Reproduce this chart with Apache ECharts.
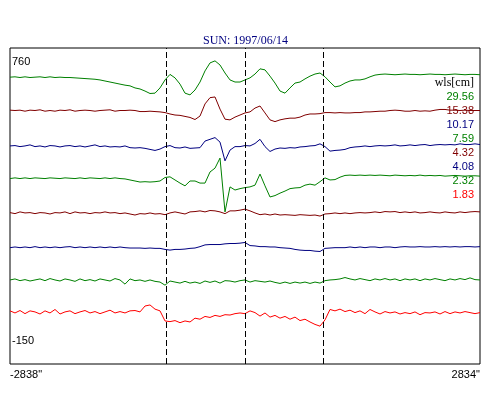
<!DOCTYPE html>
<html>
<head>
<meta charset="utf-8">
<script src="https://cdn.jsdelivr.net/npm/echarts@6/dist/echarts.min.js"></script>
<style>
  html, body { margin: 0; padding: 0; background: #fff; }
  #chart { width: 500px; height: 400px; }
</style>
</head>
<body>
<div id="chart"></div>
<script>
// scan positions (arcsec), 95 samples across the disk
const xMin = -2838;
const xMax = 2834;
const nPts = 95;
const xs = [];
for (let i = 0; i < nPts; i++) xs.push(xMin + (xMax - xMin) * i / (nPts - 1));

// wavelengths for the legend (cm)
const wls = ['29.56', '15.38', '10.17', '7.59', '4.32', '4.08', '2.32', '1.83'];
const colors = ['#008000', '#800000', '#000080', '#008000', '#800000', '#000080', '#008000', '#ff0000'];

// dashed marker positions (arcsec)
const markers = [-955, -2, 940];

// brightness traces (offset per channel)
const t1 = [676,677,675,677,675,676,677,675,677,675, 676,675,675,674,673,672,671,670,668,665,
  662,659,656,653,651,645,642,636,629,630, 645,668,684,674,656,630,625,639,662,694,
  717,723,711,688,668,662,662,668,674,685, 700,697,679,659,636,630,645,659,662,671,
  679,685,688,677,662,648,651,659,665,668, 668,671,677,682,684,685,684,683,684,685,
  684,684,683,684,685,684,684,683,684,685, 684,683,684,684,683];
const t2 = [581,580,581,578,581,580,582,578,580,578, 581,580,582,578,580,581,580,578,580,581,
  582,578,580,580,581,580,577,577,578,577, 576,574,570,567,566,563,560,554,564,599,
  617,619,584,555,553,561,567,573,576,587, 593,573,553,548,553,556,558,558,561,567,
  570,570,571,574,574,573,574,573,573,574, 574,576,576,577,578,578,580,581,580,578,
  578,580,578,579,578,581,583,583,581,581, 580,581,580,580,580];
const t3 = [478,479,476,478,481,476,478,475,479,478, 475,478,479,476,478,475,478,481,476,478,
  475,476,475,478,473,472,473,471,468,465, 469,476,479,473,472,475,471,472,473,492,
  497,502,489,435,466,476,476,479,478,485, 497,476,462,469,472,471,473,472,475,476,
  478,479,484,476,463,465,466,468,473,475, 476,478,476,478,479,478,479,481,478,479,
  481,479,481,482,479,481,482,481,482,481, 484,482,482,484,482];
const t4 = [384,386,384,386,384,386,385,384,386,385, 384,386,385,384,386,384,386,385,384,386,
  384,386,384,383,380,377,374,375,374,375, 377,387,389,380,371,363,377,377,371,371,
  403,414,443,288,360,351,355,358,360,365, 397,363,331,335,342,348,355,357,358,365,
  368,365,375,386,380,381,388,393,394,393, 394,393,394,393,394,393,392,394,393,392,
  393,392,394,392,393,392,393,391,392,393, 392,391,392,392,391];
const t5 = [286,283,288,285,286,283,286,285,282,286, 285,288,283,288,285,286,283,286,285,288,
  285,286,283,285,282,279,283,282,285,282, 283,280,285,288,285,282,288,289,291,288,
  292,291,288,283,291,291,293,296,291,285, 280,282,279,282,279,280,279,278,280,279,
  278,279,276,282,283,285,283,285,283,285, 286,285,286,288,286,289,288,289,286,288,
  286,288,285,286,288,286,285,288,286,285, 288,286,288,289,288];
const t6 = [185,187,185,187,185,188,185,187,185,187, 185,187,188,185,187,185,187,185,187,185,
  187,185,187,185,184,184,184,183,184,183, 183,180,178,180,180,181,183,184,188,193,
  194,194,194,196,197,197,198,200,191,190, 188,188,187,187,185,184,183,180,178,177,
  177,175,174,183,184,185,185,185,187,185, 187,185,187,187,185,187,187,185,187,188,
  187,187,188,187,187,188,187,188,187,188, 187,188,188,187,188];
const t7 = [92,95,90,93,89,92,95,90,96,92, 89,95,92,88,95,90,93,89,95,92,
  89,96,92,80,95,90,92,88,92,88, 86,77,89,86,83,88,83,86,82,89,
  85,89,83,90,89,86,90,92,86,90, 88,86,89,85,82,86,82,86,83,86,
  82,86,83,90,92,93,95,99,95,92, 96,93,90,95,92,96,92,95,90,95,
  92,95,90,95,92,96,93,90,95,92, 96,93,98,93,92];
const t8 = [3,-3,4,-5,3,0,-6,3,-3,7, -6,0,3,-5,0,4,-3,1,-5,0,
  5,-3,1,-3,3,4,0,17,20,8, 3,-26,-28,-25,-31,-26,-29,-18,-21,-13,
  -16,-10,-13,-8,-9,-5,-3,-5,3,-2, -12,-3,-15,-10,-18,-13,-21,-15,-25,-21,
  -29,-36,-41,-23,7,3,8,1,5,-2, 3,-5,7,0,-6,1,-3,0,-6,-2,
  -5,0,-8,-2,-3,0,-6,1,-5,0, -3,1,-2,-5,-2];
const traces = [t1, t2, t3, t4, t5, t6, t7, t8];

const chart = echarts.init(document.getElementById('chart'));

const series = traces.map((tr, k) => ({
  name: wls[k],
  type: 'line',
  data: tr.map((v, i) => [xs[i], v]),
  showSymbol: false,
  symbol: 'none',
  lineStyle: { color: colors[k], width: 1 },
  itemStyle: { color: colors[k] },
  silent: true
}));

series[0].markLine = {
  silent: true,
  symbol: ['none', 'none'],
  label: { show: false },
  lineStyle: { color: '#000', width: 1, type: [6, 3] },
  data: markers.map(m => ({ xAxis: m }))
};

chart.setOption({
  animation: false,
  backgroundColor: '#fff',
  title: {
    text: 'SUN: 1997/06/14',
    left: 203,
    top: 35,
    padding: 0,
    textStyle: { fontFamily: 'Liberation Serif, serif', fontSize: 12, fontWeight: 'normal', color: '#000080' }
  },
  grid: {
    left: 10, top: 48, right: 20, bottom: 36,
    show: true, borderColor: '#000', borderWidth: 1, backgroundColor: 'transparent'
  },
  legend: {
    orient: 'vertical',
    align: 'right',
    right: 21,
    top: 90,
    padding: 0,
    itemGap: 0,
    itemWidth: 0,
    itemHeight: 14,
    icon: 'rect',
    itemStyle: { opacity: 0, borderWidth: 0 },
    lineStyle: { opacity: 0 },
    selectedMode: false,
    textStyle: { fontFamily: 'Liberation Sans, Arial, sans-serif', fontSize: 11 },
    data: wls.map((w, k) => ({ name: w, textStyle: { color: colors[k] } }))
  },
  xAxis: {
    type: 'value',
    min: xMin,
    max: xMax,
    interval: xMax - xMin,
    axisLine: { show: false },
    axisTick: { show: false },
    splitLine: { show: false },
    axisLabel: {
      margin: 5,
      color: '#000',
      fontFamily: 'Liberation Sans, Arial, sans-serif',
      fontSize: 11,
      alignMinLabel: 'left',
      alignMaxLabel: 'right',
      formatter: v => v + '"'
    }
  },
  yAxis: {
    type: 'value',
    min: -150,
    max: 760,
    axisLine: { show: false },
    axisTick: { show: false },
    splitLine: { show: false },
    axisLabel: { show: false }
  },
  graphic: [
    { type: 'text', left: 12, top: 56, silent: true,
      style: { text: '760', fill: '#000', font: '11px "Liberation Sans", Arial, sans-serif' } },
    { type: 'text', left: 12, top: 335, silent: true,
      style: { text: '-150', fill: '#000', font: '11px "Liberation Sans", Arial, sans-serif' } },
    { type: 'text', right: 26, top: 77, silent: true,
      style: { text: 'wls[cm]', fill: '#000', font: '12px "Liberation Serif", serif' } }
  ],
  series: series
});
</script>
</body>
</html>
